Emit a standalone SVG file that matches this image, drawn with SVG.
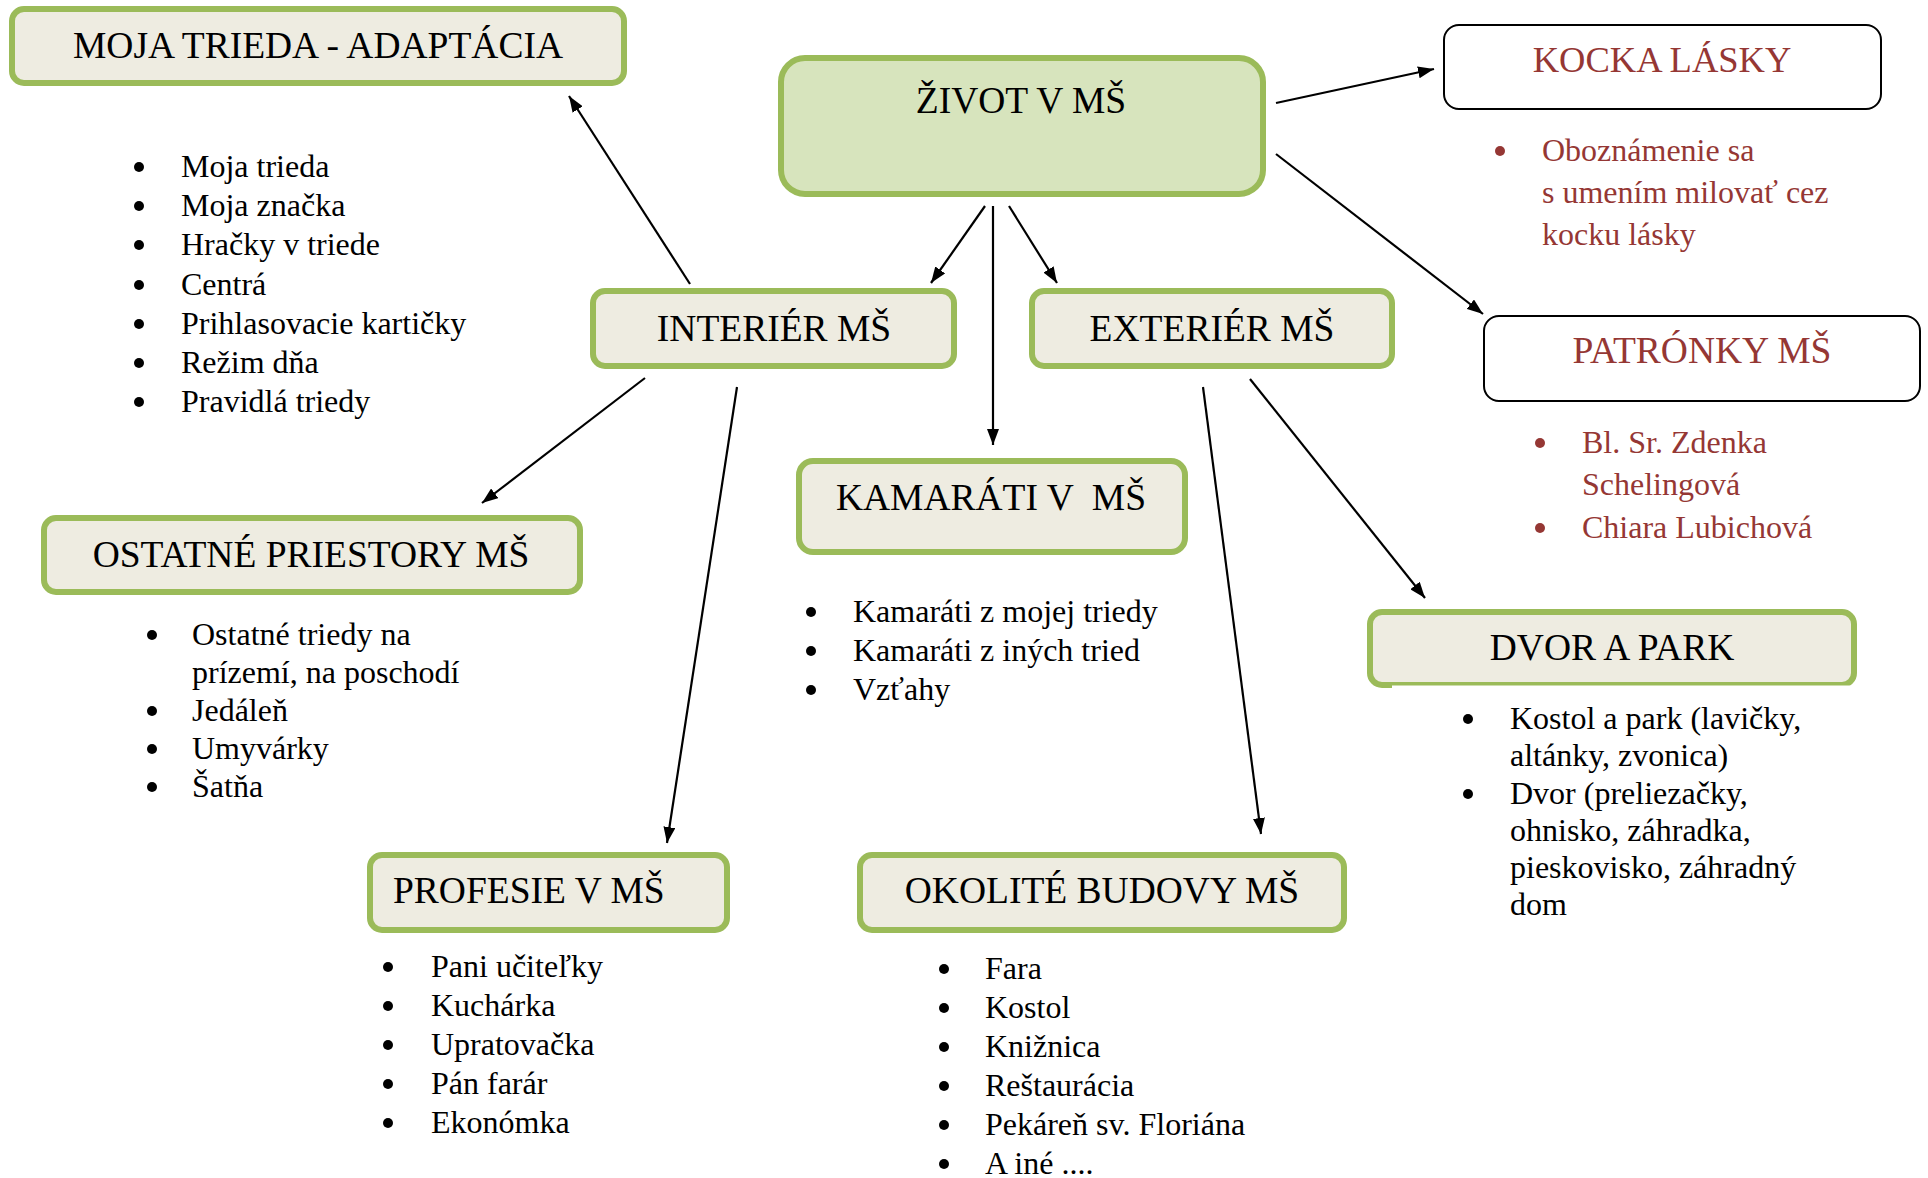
<svg xmlns="http://www.w3.org/2000/svg" width="1928" height="1178" viewBox="0 0 1928 1178">
<style>
text{font-family:"Liberation Serif","Times New Roman",serif;fill:#000}
.h{font-size:37.5px;text-anchor:middle}
.li{font-size:32px}
.red{fill:#953734}
.gbox{fill:#eeece1;stroke:#9bbb59;stroke-width:6}
.main{fill:#d7e4bd;stroke:#9bbb59;stroke-width:6}
.wbox{fill:#fff;stroke:#000;stroke-width:2}
.bul{fill:#000}
.rbul{fill:#953734}
.con line{stroke:#000;stroke-width:2.2;fill:none}
.arr{marker-end:url(#ah)}
</style>
<defs>
<marker id="ah" markerUnits="userSpaceOnUse" markerWidth="17" markerHeight="12" refX="16" refY="6" orient="auto">
<path d="M0,0 L16,6 L0,12 z" fill="#000"/>
</marker>
</defs>
<rect width="1928" height="1178" fill="#fff"/>

<g id="connectors" class="con">
<line class="arr" x1="690" y1="284" x2="569" y2="96"/>
<line class="arr" x1="985" y1="206" x2="931" y2="283"/>
<line class="arr" x1="993" y1="206" x2="993" y2="445"/>
<line class="arr" x1="1009" y1="206" x2="1057" y2="283"/>
<line class="arr" x1="1276" y1="103" x2="1434" y2="69"/>
<line class="arr" x1="1276" y1="154" x2="1483" y2="314"/>
<line class="arr" x1="645" y1="378" x2="482" y2="503"/>
<line class="arr" x1="737" y1="387" x2="667" y2="843"/>
<line class="arr" x1="1203" y1="387" x2="1261" y2="834"/>
<line class="arr" x1="1250" y1="379" x2="1425" y2="598"/>
</g>

<g id="zivot">
<rect class="main" x="781" y="58" width="482" height="136" rx="24"/>
<text class="h" x="1021" y="113">ŽIVOT V MŠ</text>
</g>

<g id="moja-trieda">
<rect class="gbox" x="12" y="9" width="612" height="74" rx="12"/>
<text class="h" x="318" y="58">MOJA TRIEDA - ADAPTÁCIA</text>
<g class="bul">
<circle cx="139" cy="167" r="5"/><circle cx="139" cy="206" r="5"/><circle cx="139" cy="245" r="5"/><circle cx="139" cy="285" r="5"/><circle cx="139" cy="324" r="5"/><circle cx="139" cy="363" r="5"/><circle cx="139" cy="402" r="5"/>
</g>
<text class="li" x="181" y="177">Moja trieda</text>
<text class="li" x="181" y="216">Moja značka</text>
<text class="li" x="181" y="255">Hračky v triede</text>
<text class="li" x="181" y="295">Centrá</text>
<text class="li" x="181" y="334">Prihlasovacie kartičky</text>
<text class="li" x="181" y="373">Režim dňa</text>
<text class="li" x="181" y="412">Pravidlá triedy</text>
</g>

<g id="interier">
<rect class="gbox" x="593" y="291" width="361" height="75" rx="12"/>
<text class="h" x="774" y="341">INTERIÉR MŠ</text>
</g>

<g id="exterier">
<rect class="gbox" x="1032" y="291" width="360" height="75" rx="12"/>
<text class="h" x="1212" y="341">EXTERIÉR MŠ</text>
</g>

<g id="kocka-lasky">
<rect class="wbox" x="1444" y="25" width="437" height="84" rx="15"/>
<text class="h red" x="1662" y="72" style="font-size:36.5px">KOCKA LÁSKY</text>
<circle class="rbul" cx="1500" cy="151" r="5"/>
<text class="li red" x="1542" y="161">Oboznámenie sa</text>
<text class="li red" x="1542" y="203">s umením milovať cez</text>
<text class="li red" x="1542" y="245">kocku lásky</text>
</g>

<g id="patronky">
<rect class="wbox" x="1484" y="316" width="436" height="85" rx="15"/>
<text class="h red" x="1702" y="363">PATRÓNKY MŠ</text>
<circle class="rbul" cx="1540" cy="443" r="5"/>
<circle class="rbul" cx="1540" cy="528" r="5"/>
<text class="li red" x="1582" y="453">Bl. Sr. Zdenka</text>
<text class="li red" x="1582" y="495">Schelingová</text>
<text class="li red" x="1582" y="538">Chiara Lubichová</text>
</g>

<g id="ostatne-priestory">
<rect class="gbox" x="44" y="518" width="536" height="74" rx="12"/>
<text class="h" x="311" y="567">OSTATNÉ PRIESTORY MŠ</text>
<g class="bul">
<circle cx="152" cy="635" r="5"/><circle cx="152" cy="711" r="5"/><circle cx="152" cy="749" r="5"/><circle cx="152" cy="787" r="5"/>
</g>
<text class="li" x="192" y="645">Ostatné triedy na</text>
<text class="li" x="192" y="683">prízemí, na poschodí</text>
<text class="li" x="192" y="721">Jedáleň</text>
<text class="li" x="192" y="759">Umyvárky</text>
<text class="li" x="192" y="797">Šatňa</text>
</g>

<g id="kamarati">
<rect class="gbox" x="799" y="461" width="386" height="91" rx="14"/>
<text class="h" x="991" y="510" xml:space="preserve">KAMARÁTI V  MŠ</text>
<g class="bul">
<circle cx="811" cy="612" r="5"/><circle cx="811" cy="651" r="5"/><circle cx="811" cy="690" r="5"/>
</g>
<text class="li" x="853" y="622">Kamaráti z mojej triedy</text>
<text class="li" x="853" y="661">Kamaráti z iných tried</text>
<text class="li" x="853" y="700">Vzťahy</text>
</g>

<g id="dvor-a-park">
<rect class="gbox" x="1370" y="612" width="484" height="73" rx="12"/>
<rect x="1392" y="685.5" width="470" height="6" fill="#fff"/>
<text class="h" x="1612" y="660">DVOR A PARK</text>
<g class="bul">
<circle cx="1468" cy="719" r="5"/><circle cx="1468" cy="794" r="5"/>
</g>
<text class="li" x="1510" y="729">Kostol a park (lavičky,</text>
<text class="li" x="1510" y="766">altánky, zvonica)</text>
<text class="li" x="1510" y="804">Dvor (preliezačky,</text>
<text class="li" x="1510" y="841">ohnisko, záhradka,</text>
<text class="li" x="1510" y="878">pieskovisko, záhradný</text>
<text class="li" x="1510" y="915">dom</text>
</g>

<g id="profesie">
<rect class="gbox" x="370" y="855" width="357" height="75" rx="12"/>
<text class="h" x="393" y="903" style="text-anchor:start">PROFESIE V MŠ</text>
<g class="bul">
<circle cx="388" cy="967" r="5"/><circle cx="388" cy="1006" r="5"/><circle cx="388" cy="1045" r="5"/><circle cx="388" cy="1084" r="5"/><circle cx="388" cy="1123" r="5"/>
</g>
<text class="li" x="431" y="977">Pani učiteľky</text>
<text class="li" x="431" y="1016">Kuchárka</text>
<text class="li" x="431" y="1055">Upratovačka</text>
<text class="li" x="431" y="1094">Pán farár</text>
<text class="li" x="431" y="1133">Ekonómka</text>
</g>

<g id="okolite-budovy">
<rect class="gbox" x="860" y="855" width="484" height="75" rx="12"/>
<text class="h" x="1102" y="903">OKOLITÉ BUDOVY MŠ</text>
<g class="bul">
<circle cx="944" cy="969" r="5"/><circle cx="944" cy="1008" r="5"/><circle cx="944" cy="1047" r="5"/><circle cx="944" cy="1086" r="5"/><circle cx="944" cy="1125" r="5"/><circle cx="944" cy="1164" r="5"/>
</g>
<text class="li" x="985" y="979">Fara</text>
<text class="li" x="985" y="1018">Kostol</text>
<text class="li" x="985" y="1057">Knižnica</text>
<text class="li" x="985" y="1096">Reštaurácia</text>
<text class="li" x="985" y="1135">Pekáreň sv. Floriána</text>
<text class="li" x="985" y="1174">A iné ....</text>
</g>
</svg>
